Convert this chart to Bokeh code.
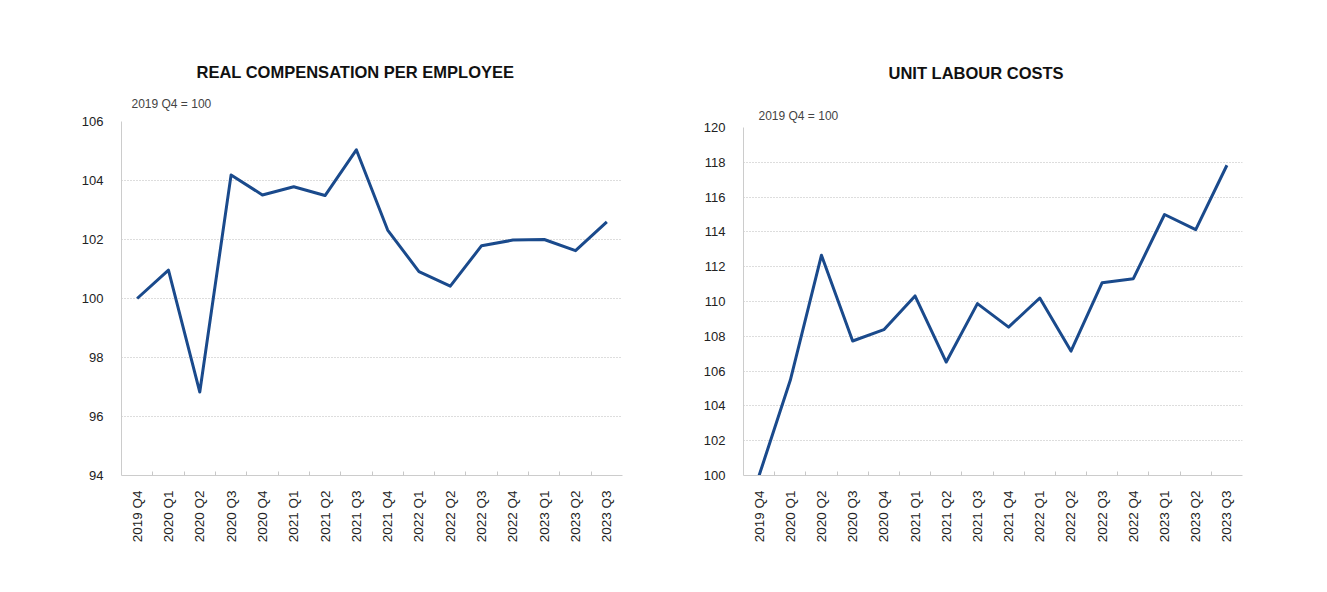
import math
from bokeh.plotting import figure
from bokeh.models import Range1d, FixedTicker, Title
from bokeh.layouts import row, column
from bokeh.embed import file_html
from bokeh.resources import INLINE

categories = ["2019 Q4", "2020 Q1", "2020 Q2", "2020 Q3", "2020 Q4", "2021 Q1",
              "2021 Q2", "2021 Q3", "2021 Q4", "2022 Q1", "2022 Q2", "2022 Q3",
              "2022 Q4", "2023 Q1", "2023 Q2", "2023 Q3"]
real_comp = [100.0, 100.96, 96.83, 104.19, 103.51, 103.79, 103.49, 105.04,
             102.32, 100.91, 100.42, 101.79, 101.98, 102.0, 101.62, 102.6]
unit_labour = [100.0, 105.47, 112.66, 107.73, 108.38, 110.32, 106.52, 109.88,
               108.53, 110.2, 107.15, 111.08, 111.31, 115.0, 114.13, 117.83]

left_title = "REAL COMPENSATION PER EMPLOYEE"
right_title = "UNIT LABOUR COSTS"
base_note = "2019 Q4 = 100"
left_yticks = [94, 96, 98, 100, 102, 104, 106]
right_yticks = [100, 102, 104, 106, 108, 110, 112, 114, 116, 118, 120]

FONT = "Liberation Sans"
LINE = "#1a4a8c"


def make(values, yticks, title, width, height, mb_left, mb_right, mb_top, mb_bottom,
         title_offset, note_offset, note_standoff, title_standoff):
    n = len(categories)
    xs = list(range(n))
    p = figure(width=width, height=height, output_backend="svg", toolbar_location=None,
               x_range=Range1d(-0.5, n - 0.5), y_range=Range1d(yticks[0], yticks[-1]),
               min_border_left=mb_left, min_border_right=mb_right,
               min_border_top=mb_top, min_border_bottom=mb_bottom)
    p.title.visible = False
    p.outline_line_color = None
    p.background_fill_color = "white"
    p.border_fill_color = "white"
    p.line(xs, values, line_color=LINE, line_width=3, line_join="round")

    xa = p.xaxis[0]
    xa.ticker = FixedTicker(ticks=xs, minor_ticks=[i + 0.5 for i in range(n - 1)])
    xa.major_label_overrides = {i: c for i, c in enumerate(categories)}
    xa.major_label_orientation = math.pi / 2
    xa.major_tick_line_color = None
    xa.minor_tick_in = 4
    xa.minor_tick_out = 0
    xa.minor_tick_line_color = "#c8c8c8"
    xa.axis_line_color = "#cccccc"
    xa.major_label_text_font = FONT
    xa.major_label_text_font_size = "13.5px"
    xa.major_label_text_color = "#222222"
    xa.major_label_standoff = 9

    ya = p.yaxis[0]
    ya.ticker = FixedTicker(ticks=yticks)
    ya.major_tick_line_color = None
    ya.minor_tick_line_color = None
    ya.axis_line_color = "#cccccc"
    ya.major_label_text_font = FONT
    ya.major_label_text_font_size = "13px"
    ya.major_label_text_color = "#222222"
    ya.major_label_standoff = 12

    p.xgrid.visible = False
    p.ygrid.grid_line_color = "#bbbbbb"
    p.ygrid.grid_line_dash = "1 2"
    p.ygrid.grid_line_width = 1

    p.add_layout(Title(text=base_note, align="left", offset=note_offset,
                       standoff=note_standoff, text_font=FONT, text_font_size="12px",
                       text_font_style="normal", text_color="#444444"), "above")
    p.add_layout(Title(text=title, align="left", offset=title_offset,
                       standoff=title_standoff, text_font=FONT, text_font_size="16.5px",
                       text_font_style="bold", text_color="#111111"), "above")
    return p


p1 = make(real_comp, left_yticks, left_title, 660, 575, 121, 38, 121, 100,
          75, 10, 22, 6)
p2 = make(unit_labour, right_yticks, right_title, 659, 575, 83, 77, 127, 100,
          145, 15, 10, 39)

layout = row(column(p1), column(p2))
open("out.html", "w").write(file_html(layout, INLINE))
